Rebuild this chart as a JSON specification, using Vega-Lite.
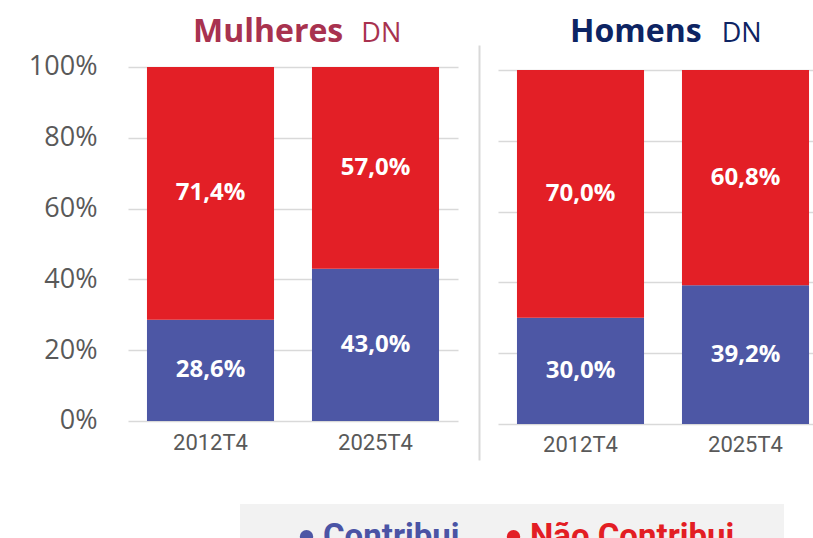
{
  "$schema": "https://vega.github.io/schema/vega-lite/v6.json",
  "padding": {"left": 28, "top": 16, "right": 0, "bottom": 0},
  "background": "white",
  "config": {
    "locale": {"number": {"decimal": ",", "thousands": ".", "grouping": [3], "currency": ["", " €"]}},
    "view": {"stroke": null},
    "concat": {"spacing": 21}
  },
  "datasets": {
    "mulheres": [
      {"periodo": "2012T4", "serie": "Contribui", "ord": 1, "v": 0.286},
      {"periodo": "2012T4", "serie": "Não Contribui", "ord": 2, "v": 0.714},
      {"periodo": "2025T4", "serie": "Contribui", "ord": 1, "v": 0.430},
      {"periodo": "2025T4", "serie": "Não Contribui", "ord": 2, "v": 0.570}
    ],
    "homens": [
      {"periodo": "2012T4", "serie": "Contribui", "ord": 1, "v": 0.300},
      {"periodo": "2012T4", "serie": "Não Contribui", "ord": 2, "v": 0.700},
      {"periodo": "2025T4", "serie": "Contribui", "ord": 1, "v": 0.392},
      {"periodo": "2025T4", "serie": "Não Contribui", "ord": 2, "v": 0.608}
    ]
  },
  "resolve": {"scale": {"color": "shared"}},
  "hconcat": [
    {
      "width": 330,
      "height": 415,
      "data": {"name": "mulheres"},
      "transform": [
        {"stack": "v", "groupby": ["periodo"], "sort": [{"field": "ord", "order": "ascending"}], "as": ["y0", "y1"]},
        {"calculate": "(datum.y0 + datum.y1) / 2", "as": "ymid"}
      ],
      "title": {
        "text": "Mulheres",
        "subtitle": "\u200b\u00a0\u00a0\u00a0\u00a0\u00a0\u00a0\u00a0\u00a0\u00a0\u00a0\u00a0\u00a0\u00a0\u00a0\u00a0\u00a0\u00a0\u00a0\u00a0\u00a0\u00a0\u00a0\u00a0\u00a0DN",
        "anchor": "start", "frame": "group", "dx": 65, "offset": -4,
        "font": "Open Sans", "fontSize": 32, "fontWeight": "bold", "color": "#A8324F",
        "subtitleFont": "Open Sans", "subtitleFontSize": 27, "subtitleFontWeight": "normal", "subtitleColor": "#A8324F",
        "subtitlePadding": -28
      },
      "encoding": {
        "x": {
          "field": "periodo", "type": "nominal",
          "scale": {"paddingInner": 0.23, "paddingOuter": 0.115},
          "axis": {"title": null, "domain": false, "ticks": false, "labelAngle": 0, "labelFont": "Roboto", "labelFontSize": 22, "labelColor": "#595959", "offset": -39, "labelPadding": 11}
        }
      },
      "layer": [
        {
          "mark": {"type": "bar"},
          "encoding": {
            "y": {
              "field": "y0", "type": "quantitative",
              "scale": {"domain": [-0.1102, 1.0621], "nice": false, "zero": false},
              "axis": {"values": [0, 0.2, 0.4, 0.6, 0.8, 1], "format": ".0%", "title": null, "domain": false, "ticks": false, "labelPadding": 31, "labelFont": "Open Sans", "labelFontSize": 27, "labelColor": "#595959", "grid": true, "gridColor": "#D9D9D9", "gridWidth": 1.5}
            },
            "y2": {"field": "y1"},
            "color": {
              "field": "serie", "type": "nominal",
              "scale": {"domain": ["Contribui", "Não Contribui"], "range": ["#4D57A5", "#E31F26"]},
              "legend": {
                "orient": "none", "legendX": 112, "legendY": 459, "direction": "horizontal",
                "title": "\u00a0", "titleOrient": "left", "titleFontSize": 4, "titlePadding": 34,
                "fillColor": "#F2F2F2", "padding": 16,
                "symbolType": "circle", "symbolSize": 180, "symbolStrokeWidth": 0,
                "labelFont": "Roboto", "labelFontSize": 33, "labelFontWeight": "bold",
                "labelColor": {"expr": "datum.value == 'Contribui' ? '#4A54A5' : '#E31E24'"},
                "labelOffset": 0, "columnPadding": 37, "labelLimit": 400,
                "labelExpr": "datum.value == 'Contribui' ? datum.label : datum.label + '\u00a0\u00a0\u00a0\u00a0\u200b'"
              }
            }
          }
        },
        {
          "mark": {"type": "text", "font": "Open Sans", "fontWeight": "bold", "fontSize": 24, "color": "white", "align": "center", "baseline": "middle"},
          "encoding": {
            "y": {"field": "ymid", "type": "quantitative"},
            "text": {"field": "v", "type": "quantitative", "format": ".1%"}
          }
        }
      ]
    },
    {
      "width": 330,
      "height": 415,
      "data": {"name": "homens"},
      "transform": [
        {"stack": "v", "groupby": ["periodo"], "sort": [{"field": "ord", "order": "ascending"}], "as": ["y0", "y1"]},
        {"calculate": "(datum.y0 + datum.y1) / 2", "as": "ymid"}
      ],
      "title": {
        "text": "Homens",
        "subtitle": "\u200b\u00a0\u00a0\u00a0\u00a0\u00a0\u00a0\u00a0\u00a0\u00a0\u00a0\u00a0\u00a0\u00a0\u00a0\u00a0\u00a0\u00a0\u00a0\u00a0\u00a0\u00a0\u2009DN",
        "anchor": "start", "frame": "group", "dx": 72, "offset": -4,
        "font": "Open Sans", "fontSize": 32, "fontWeight": "bold", "color": "#0D2463",
        "subtitleFont": "Open Sans", "subtitleFontSize": 27, "subtitleFontWeight": "normal", "subtitleColor": "#0D2463",
        "subtitlePadding": -28
      },
      "encoding": {
        "x": {
          "field": "periodo", "type": "nominal",
          "scale": {"paddingInner": 0.23, "paddingOuter": 0.115},
          "axis": {"title": null, "domain": false, "ticks": false, "labelAngle": 0, "labelFont": "Roboto", "labelFontSize": 22, "labelColor": "#595959", "offset": -36, "labelPadding": 10}
        }
      },
      "layer": [
        {
          "mark": {"type": "bar"},
          "encoding": {
            "y": {
              "field": "y0", "type": "quantitative",
              "scale": {"domain": [-0.1017, 1.0706], "nice": false, "zero": false},
              "axis": {"values": [0, 0.2, 0.4, 0.6, 0.8, 1], "labels": false, "title": null, "domain": true, "domainColor": "#D9D9D9", "domainWidth": 2, "offset": 19, "ticks": false, "grid": true, "gridColor": "#D9D9D9", "gridWidth": 1.5}
            },
            "y2": {"field": "y1"},
            "color": {
              "field": "serie", "type": "nominal",
              "scale": {"domain": ["Contribui", "Não Contribui"], "range": ["#4D57A5", "#E31F26"]},
              "legend": {
                "orient": "none", "legendX": 112, "legendY": 459, "direction": "horizontal",
                "title": "\u00a0", "titleOrient": "left", "titleFontSize": 4, "titlePadding": 34,
                "fillColor": "#F2F2F2", "padding": 16,
                "symbolType": "circle", "symbolSize": 180, "symbolStrokeWidth": 0,
                "labelFont": "Roboto", "labelFontSize": 33, "labelFontWeight": "bold",
                "labelColor": {"expr": "datum.value == 'Contribui' ? '#4A54A5' : '#E31E24'"},
                "labelOffset": 0, "columnPadding": 37, "labelLimit": 400,
                "labelExpr": "datum.value == 'Contribui' ? datum.label : datum.label + '\u00a0\u00a0\u00a0\u00a0\u200b'"
              }
            }
          }
        },
        {
          "mark": {"type": "text", "font": "Open Sans", "fontWeight": "bold", "fontSize": 24, "color": "white", "align": "center", "baseline": "middle"},
          "encoding": {
            "y": {"field": "ymid", "type": "quantitative"},
            "text": {"field": "v", "type": "quantitative", "format": ".1%"}
          }
        }
      ]
    }
  ]
}
